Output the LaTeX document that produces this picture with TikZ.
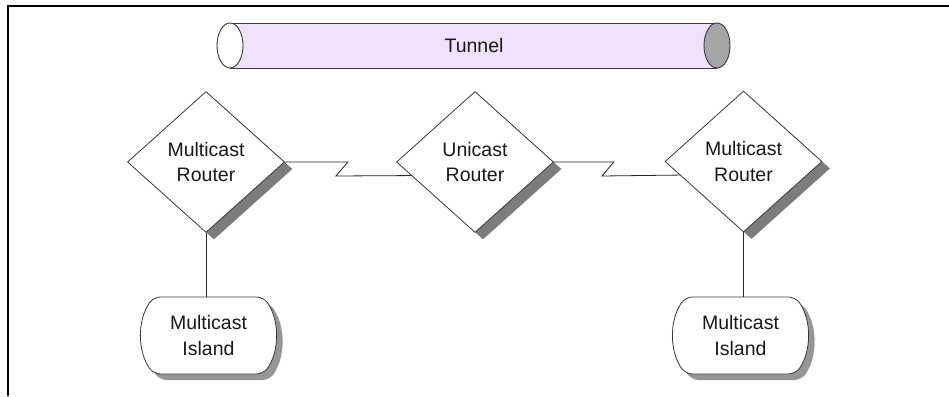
\documentclass[tikz,border=0pt]{standalone}
\usepackage{fontspec}
\setmainfont{Liberation Sans}
\usepackage{tikz}
\usetikzlibrary{calc,shapes.geometric,shapes.misc,shadows}
\definecolor{tunnelfill}{HTML}{F0E2FC}
\definecolor{tunnelend}{HTML}{A6A6A6}
\definecolor{outline}{HTML}{3A3A3A}
\definecolor{shade}{HTML}{7C7C7C}
\tikzset{
  label/.style={font=\fontsize{19.5}{25.5}\selectfont, text=black!90, align=center},
  router/.style={
    diamond,
    label,
    draw=outline,
    line width=0.8pt,
    fill=white,
    inner sep=0pt,
    minimum width=157pt,
    minimum height=141pt,
    drop shadow={shadow xshift=8pt, shadow yshift=-7pt, fill=shade, opacity=1}
  },
  island/.style={
    rounded rectangle,
    rounded rectangle arc length=70,
    rounded corners=7pt,
    label,
    draw=outline,
    line width=0.8pt,
    fill=white,
    inner sep=0pt,
    minimum width=127pt,
    minimum height=77pt,
    drop shadow={shadow xshift=6pt, shadow yshift=-6pt, fill=shade, opacity=0.8}
  },
  link/.style={line width=0.8pt, draw=black!85},
  tube/.style={line width=0.9pt, draw=outline}
}

\begin{document}
\begin{tikzpicture}[x=1pt,y=1pt]
\useasboundingbox (0,0) rectangle (949,-396);
\fill[white] (0,0) rectangle (949,-396);
\draw[line width=1.4pt] (8,-396) -- (8,-6) -- (949,-6);

% tunnel
\fill[tunnelfill] (230,-23) rectangle (717,-68);
\draw[tube] (230,-23) -- (717,-23);
\draw[tube] (230,-68) -- (717,-68);
\draw[tube, fill=white] (230,-45.5) ellipse (13 and 22.5);
\draw[tube, fill=tunnelend] (717,-45.5) ellipse (13 and 22.5);
\node[label] (tunnel) at (474,-45.5) {Tunnel};

\node[router] (mleft) at (206,-162) {Multicast\\Router};
\node[router] (ucast) at (475,-162) {Unicast\\Router};
\node[router] (mright) at (743.5,-161.5) {Multicast\\Router};

\node[island] (ileft) at (208.5,-335.5) {Multicast\\Island};
\node[island] (iright) at (740.5,-335.5) {Multicast\\Island};

\draw[link] (mleft.east) -- ++(63,0) -- ++(-12,-14) -- (ucast.192.5);
\draw[link] (ucast.east) -- ++(60,0) -- ++(-12,-14) -- (mright.192.5);
\draw[link] (mleft.south) -- (mleft.south |- ileft.north);
\draw[link] (mright.south) -- (mright.south |- iright.north);
\end{tikzpicture}
\end{document}
